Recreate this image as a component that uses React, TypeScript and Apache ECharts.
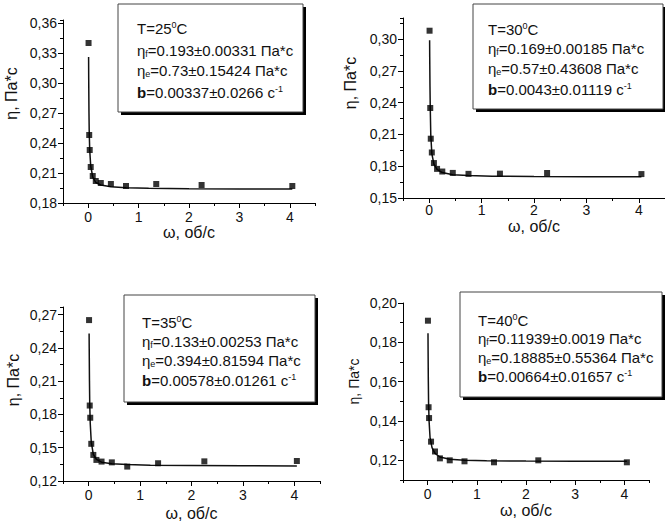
import React, { useEffect, useRef } from "react";
import * as echarts from "echarts";

// measured data (omega in об/с, eta in Па*с)
const omega = [0.007, 0.02, 0.03, 0.05, 0.09, 0.15, 0.25, 0.45, 0.75, 1.35, 2.25, 4.05];
const omega40 = [0.007, 0.02, 0.03, 0.07, 0.15, 0.25, 0.45, 0.75, 1.35, 2.25, 4.05];
const eta25 = [0.34, 0.248, 0.233, 0.216, 0.207, 0.202, 0.2, 0.199, 0.197, 0.199, 0.198, 0.197];
const eta30 = [0.308, 0.235, 0.206, 0.193, 0.183, 0.1775, 0.175, 0.1737, 0.1728, 0.173, 0.1736, 0.1726];
const eta35 = [0.265, 0.188, 0.177, 0.1535, 0.1435, 0.139, 0.1375, 0.1368, 0.133, 0.136, 0.1377, 0.138];
const eta40 = [0.191, 0.147, 0.1415, 0.1295, 0.1245, 0.121, 0.12, 0.1195, 0.119, 0.12, 0.119];

// fitted curves
const fitOmega = [0.008, 0.01, 0.015, 0.02, 0.03, 0.05, 0.09, 0.15, 0.25, 0.45, 0.75, 1.2, 2, 3, 4.05];
const fit25 = [0.326, 0.305, 0.272, 0.252, 0.233, 0.217, 0.206, 0.2005, 0.198, 0.1963, 0.1953, 0.1947, 0.1943, 0.1941, 0.194];
const fit30 = [0.299, 0.283, 0.255, 0.236, 0.21, 0.192, 0.182, 0.177, 0.174, 0.172, 0.1712, 0.1706, 0.1703, 0.1701, 0.17];
const fit35 = [0.253, 0.24, 0.21, 0.19, 0.172, 0.155, 0.144, 0.1395, 0.137, 0.1355, 0.1348, 0.1343, 0.134, 0.1337, 0.1335];
const fit40 = [0.1846, 0.176, 0.16, 0.149, 0.14, 0.1315, 0.1265, 0.1235, 0.1217, 0.1206, 0.1201, 0.1198, 0.1196, 0.1195, 0.1195];

// tick labels
const xTicks = [0, 1, 2, 3, 4];
const yTicks25 = [0.18, 0.21, 0.24, 0.27, 0.3, 0.33, 0.36];
const yTicks30 = [0.15, 0.18, 0.21, 0.24, 0.27, 0.3];
const yTicks35 = [0.12, 0.15, 0.18, 0.21, 0.24, 0.27];
const yTicks40 = [0.12, 0.14, 0.16, 0.18, 0.2];

// legend box texts
const temps = ["25", "30", "35", "40"];
const etaF = ["0.193±0.00331", "0.169±0.00185", "0.133±0.00253", "0.11939±0.0019"];
const etaE = ["0.73±0.15424", "0.57±0.43608", "0.394±0.81594", "0.18885±0.55364"];
const bVals = ["0.00337±0.0266", "0.0043±0.01119", "0.00578±0.01261", "0.00664±0.01657"];

const FONT = "'Liberation Sans', Arial, sans-serif";

const panels = [
  { xs: omega, ys: eta25, fit: fit25, yTicks: yTicks25, grid: { left: 63, top: 20, width: 252, height: 183 }, yMin: 0.18, yMax: 0.363, yMinor: 0.015, yGap: 44, xGap: 21, xMargin: 7,
    namePad: [0, 0, 0, 36], nameSize: 16,
    box: { x: 118, y: 4, w: 185, h: 108 }, tx: 137, ty: [28, 50, 70, 92] },
  { xs: omega, ys: eta30, fit: fit30, yTicks: yTicks30, grid: { left: 403, top: 18, width: 270, height: 180 }, yMin: 0.15, yMax: 0.32, yMinor: 0.015, yGap: 45, xGap: 20, xMargin: 5,
    namePad: [0, 0, 0, 50], nameSize: 16,
    box: { x: 473, y: 4, w: 190, h: 105 }, tx: 488, ty: [29, 48, 68, 89] },
  { xs: omega, ys: eta35, fit: fit35, yTicks: yTicks35, grid: { left: 63, top: 307, width: 257, height: 175 }, yMin: 0.12, yMax: 0.2768, yMinor: 0.015, yGap: 42, xGap: 24, xMargin: 7,
    namePad: [0, 0, 0, 28], nameSize: 16,
    box: { x: 124, y: 295, w: 191, h: 107 }, tx: 142, ty: [322, 341, 360, 380] },
  { xs: omega40, ys: eta40, fit: fit40, yTicks: yTicks40, grid: { left: 403, top: 303, width: 246, height: 177 }, yMin: 0.11, yMax: 0.2, yMinor: 0.01, yGap: 42, xGap: 22, xMargin: 7,
    namePad: [0, 0, 0, 20], nameSize: 14,
    box: { x: 460, y: 292, w: 202, h: 105 }, tx: 478, ty: [320, 338, 357, 376] },
];

const rich = {
  e: { fontSize: 15, fontFamily: FONT, lineHeight: 16, fill: "#111" },
  sub: { fontSize: 9, fontFamily: FONT, lineHeight: 10, verticalAlign: "bottom", fill: "#111" },
  sup: { fontSize: 9, fontFamily: FONT, lineHeight: 10, verticalAlign: "top", fill: "#111" },
  b: { fontSize: 15, fontFamily: FONT, fontWeight: "bold", lineHeight: 16, fill: "#111" },
  n: { fontSize: 15, fontFamily: FONT, lineHeight: 16, fill: "#111" },
};

export default function App() {
  const ref = useRef<HTMLDivElement>(null);
  useEffect(() => {
    if (!ref.current) return;
    const chart = echarts.init(ref.current, null, { renderer: "svg" });
    const grids: any[] = [];
    const xAxes: any[] = [];
    const yAxes: any[] = [];
    const series: any[] = [];
    const graphics: any[] = [];
    panels.forEach((p, i) => {
      grids.push({ ...p.grid, containLabel: false });
      xAxes.push({
        type: "value", gridIndex: i, position: "bottom", min: -0.5, max: 4.5,
        axisLine: { show: true, onZero: false, lineStyle: { color: "#000", width: 1 } },
        axisTick: { show: true, customValues: xTicks, length: 5, lineStyle: { color: "#000" } },
        axisLabel: { customValues: xTicks, color: "#111", fontSize: 14, fontFamily: FONT, margin: p.xMargin, formatter: (v: number) => String(v) },
        splitLine: { show: false },
        name: "ω, об/с", nameLocation: "middle", nameGap: p.xGap, nameMoveOverlap: false,
        nameTextStyle: { color: "#111", fontSize: 16, fontFamily: FONT, verticalAlign: "top" },
      });
      xAxes.push({
        type: "value", gridIndex: i, position: "bottom", min: -0.5, max: 4.5, interval: 0.5,
        axisLine: { show: false, onZero: false },
        axisTick: { show: true, length: 3, lineStyle: { color: "#000" } },
        axisLabel: { show: false }, splitLine: { show: false },
      });
      yAxes.push({
        type: "value", gridIndex: i, position: "left", min: p.yMin, max: p.yMax,
        axisLine: { show: true, onZero: false, lineStyle: { color: "#000", width: 1 } },
        axisTick: { show: true, customValues: p.yTicks, length: 5, lineStyle: { color: "#000" } },
        axisLabel: { customValues: p.yTicks, color: "#111", fontSize: 14, fontFamily: FONT, margin: 6,
          formatter: (v: number) => v.toFixed(2).replace(".", ",") },
        splitLine: { show: false },
        name: "η, Па*с", nameLocation: "middle", nameGap: p.yGap, nameRotate: 90, nameMoveOverlap: false,
        nameTextStyle: { color: "#111", fontSize: p.nameSize, fontFamily: FONT, padding: p.namePad },
      });
      yAxes.push({
        type: "value", gridIndex: i, position: "left", min: p.yMin, max: p.yMax, interval: p.yMinor,
        axisLine: { show: false, onZero: false },
        axisTick: { show: true, length: 3, lineStyle: { color: "#000" } },
        axisLabel: { show: false }, splitLine: { show: false },
      });
      series.push({
        type: "line", xAxisIndex: 2 * i, yAxisIndex: 2 * i, showSymbol: false,
        data: p.fit.map((v, k) => [fitOmega[k], v]),
        lineStyle: { color: "#111", width: 1.5 }, silent: true, z: 2,
      });
      series.push({
        type: "scatter", xAxisIndex: 2 * i, yAxisIndex: 2 * i, symbol: "rect", symbolSize: 6,
        data: p.ys.map((v, k) => [p.xs[k], v]),
        itemStyle: { color: "#000" }, silent: true, z: 3,
      });
      const b = p.box;
      graphics.push({ type: "rect", shape: { x: b.x + 3, y: b.y + 3, width: b.w, height: b.h }, style: { fill: "#000" }, z: 10 });
      graphics.push({ type: "rect", shape: { x: b.x, y: b.y, width: b.w, height: b.h }, style: { fill: "#fff", stroke: "#444", lineWidth: 1 }, z: 11 });
      const lines = [
        `{n|T=${temps[i]}}{sup|0}{n|C}`,
        `{e|η}{sub|f}{n|=${etaF[i]} Па*с}`,
        `{e|η}{sub|e}{n|=${etaE[i]} Па*с}`,
        `{b|b}{n|=${bVals[i]} с}{sup|-1}`,
      ];
      lines.forEach((t, k) => {
        graphics.push({
          type: "text", x: p.tx, y: p.ty[k], z: 12,
          style: { text: t, rich, verticalAlign: "middle", align: "left", fill: "#111", fontSize: 15, fontFamily: FONT },
        });
      });
    });
    chart.setOption({
      animation: false,
      backgroundColor: "#fff",
      grid: grids,
      xAxis: xAxes,
      yAxis: yAxes,
      series,
      graphic: graphics,
    });
    return () => chart.dispose();
  }, []);
  return <div ref={ref} style={{ position: "absolute", left: 0, top: 0, width: 665, height: 522 }} />;
}
